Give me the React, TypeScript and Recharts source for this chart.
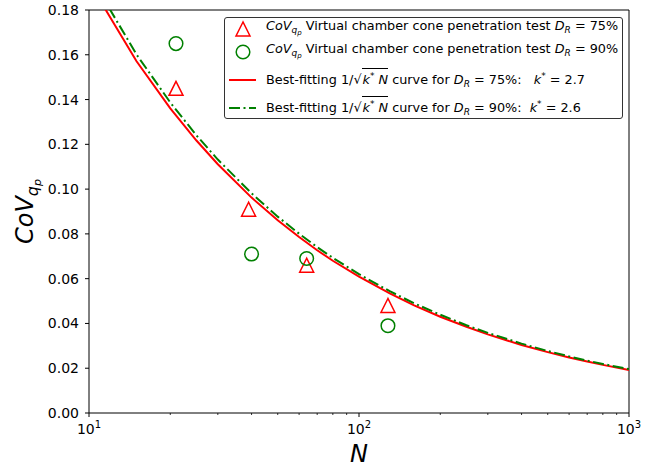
import React from "react";
import { ComposedChart, Line, Scatter, XAxis, YAxis, ReferenceArea, Legend } from "recharts";

const X_TICKS = [10, 20, 30, 40, 50, 60, 70, 80, 90, 100, 200, 300, 400, 500, 600, 700, 800, 900, 1000];
const Y_TICKS = [0, 0.02, 0.04, 0.06, 0.08, 0.1, 0.12, 0.14, 0.16, 0.18];

// virtual chamber CPT results
const N_75 = [21, 39, 64, 128];
const COV_75 = [0.145, 0.091, 0.066, 0.048];
const N_90 = [21, 40, 64, 128];
const COV_90 = [0.165, 0.071, 0.069, 0.039];

// best-fitting curves, read along N
const CURVE_N = [10, 15, 20, 25, 30, 40, 50, 60, 70, 80, 100, 130, 160, 200, 250, 300, 400, 500, 600, 700, 800, 1000];
const FIT_75 = [0.1925, 0.1571, 0.1361, 0.1217, 0.1111, 0.0962, 0.0861, 0.0786, 0.0727, 0.068, 0.0609, 0.0534, 0.0481, 0.043, 0.0385, 0.0351, 0.0304, 0.0272, 0.0248, 0.023, 0.0215, 0.0192];
const FIT_90 = [0.1961, 0.1601, 0.1387, 0.124, 0.1132, 0.0981, 0.0877, 0.0801, 0.0741, 0.0693, 0.062, 0.0544, 0.049, 0.0439, 0.0392, 0.0358, 0.031, 0.0277, 0.0253, 0.0234, 0.0219, 0.0196];

const RED = "#ff0000";
const GREEN = "#008000";
const FONT = "DejaVu Sans";

const zip = (ns: number[], vs: number[]) => ns.map((n, i) => ({ n, v: vs[i] }));
const pts75 = zip(N_75, COV_75);
const pts90 = zip(N_90, COV_90);
const fit75 = zip(CURVE_N, FIT_75);
const fit90 = zip(CURVE_N, FIT_90);

const Triangle = (p: any) => (
  <polygon
    points={`${p.cx},${p.cy - 7} ${p.cx - 7},${p.cy + 7} ${p.cx + 7},${p.cy + 7}`}
    fill="none"
    stroke={RED}
    strokeWidth={1.5}
  />
);

const Ring = (p: any) => <circle cx={p.cx} cy={p.cy} r={6.8} fill="none" stroke={GREEN} strokeWidth={1.5} />;

function LogTick({ x, y, payload }: any) {
  const exp = Math.log10(payload.value);
  const major = Math.abs(exp - Math.round(exp)) < 1e-9;
  return (
    <g>
      <line x1={x} x2={x} y1={y} y2={y + (major ? 4 : 2)} stroke="#000" strokeWidth={major ? 1 : 0.8} />
      {major && (
        <text x={x} y={y + 21} textAnchor="middle" fontSize={14} fill="#000">
          10
          <tspan dy={-6} fontSize={10}>
            {Math.round(exp)}
          </tspan>
        </text>
      )}
    </g>
  );
}

const sub = { fontSize: 9, verticalAlign: "-3px" };
const subsub = { fontSize: 7, verticalAlign: "-2px" };

function Dr({ pct }: { pct: string }) {
  return (
    <>
      <i>D</i>
      <i style={sub}>R</i>
      {` = ${pct}`}
    </>
  );
}

function SqrtKN() {
  return (
    <>
      1/√
      <span style={{ display: "inline-block", borderTop: "1px solid #000", lineHeight: "14px", paddingLeft: 1 }}>
        <i>k</i>
        <sup style={{ fontSize: 9 }}>*</sup> <i>N</i>
      </span>
    </>
  );
}

function LegendBox() {
  const rows: { c: number; handle: React.ReactNode; text: React.ReactNode }[] = [
    {
      c: 11,
      handle: <polygon points="18,3 11,17 25,17" fill="none" stroke={RED} strokeWidth={1.5} />,
      text: (
        <>
          <i>CoV</i>
          <i style={sub}>
            q<span style={subsub}>p</span>
          </i>{" "}
          Virtual chamber cone penetration test <Dr pct="75%" />
        </>
      ),
    },
    {
      c: 34,
      handle: <circle cx={18} cy={10} r={6.8} fill="none" stroke={GREEN} strokeWidth={1.5} />,
      text: (
        <>
          <i>CoV</i>
          <i style={sub}>
            q<span style={subsub}>p</span>
          </i>{" "}
          Virtual chamber cone penetration test <Dr pct="90%" />
        </>
      ),
    },
    {
      c: 62,
      handle: <line x1={4} x2={31} y1={10} y2={10} stroke={RED} strokeWidth={2} />,
      text: (
        <>
          Best-fitting <SqrtKN /> curve for <Dr pct="75%:" />
          {"   "}
          <i>k</i>
          <sup style={{ fontSize: 9 }}>*</sup> = 2.7
        </>
      ),
    },
    {
      c: 90,
      handle: <line x1={4} x2={31} y1={10} y2={10} stroke={GREEN} strokeWidth={2} strokeDasharray="11 3.5 2 3.5" />,
      text: (
        <>
          Best-fitting <SqrtKN /> curve for <Dr pct="90%:" />
          {"  "}
          <i>k</i>
          <sup style={{ fontSize: 9 }}>*</sup> = 2.6
        </>
      ),
    },
  ];
  return (
    <div
      style={{
        position: "relative",
        width: 399,
        height: 102,
        boxSizing: "border-box",
        border: "1px solid #333",
        borderRadius: 3,
        background: "rgba(255,255,255,0.8)",
        fontFamily: FONT,
        fontSize: 12.8,
        color: "#000",
      }}
    >
      {rows.map((r, i) => (
        <div
          key={i}
          style={{ position: "absolute", left: 0, right: 0, top: r.c - 10, height: 20, display: "flex", alignItems: "center" }}
        >
          <svg width={41} height={20} style={{ flex: "none" }}>
            {r.handle}
          </svg>
          <span style={{ whiteSpace: "pre", lineHeight: "20px" }}>{r.text}</span>
        </div>
      ))}
    </div>
  );
}

export default function App() {
  return (
    <div style={{ position: "absolute", left: 0, top: 0, width: 661, height: 470, background: "#fff" }}>
      <ComposedChart
        width={661}
        height={470}
        margin={{ top: 10, right: 32, left: 39, bottom: 0 }}
        style={{ fontFamily: FONT }}
      >
        <XAxis
          type="number"
          dataKey="n"
          scale="log"
          domain={[10, 1000]}
          ticks={X_TICKS}
          interval={0}
          allowDataOverflow
          axisLine={false}
          tickLine={false}
          tickSize={0}
          tickMargin={0}
          tick={<LogTick />}
          height={57}
          label={{
            content: ({ viewBox }: any) => (
              <text
                x={viewBox.x + viewBox.width / 2}
                y={viewBox.y + 49}
                textAnchor="middle"
                fontSize={24}
                fontStyle="italic"
                fill="#000"
              >
                N
              </text>
            ),
          }}
        />
        <YAxis
          type="number"
          dataKey="v"
          domain={[0, 0.18]}
          ticks={Y_TICKS}
          interval={0}
          allowDataOverflow
          width={50}
          axisLine={false}
          stroke="#000"
          tickSize={4}
          tickMargin={6}
          tick={{ fill: "#000", fontSize: 14 }}
          tickFormatter={(v: number) => v.toFixed(2)}
          label={{
            content: ({ viewBox }: any) => {
              const cx = viewBox.x - 6;
              const cy = viewBox.y + viewBox.height / 2;
              return (
                <text
                  x={cx}
                  y={cy}
                  transform={`rotate(-90 ${cx} ${cy})`}
                  textAnchor="middle"
                  fontSize={24}
                  fontStyle="italic"
                  fill="#000"
                >
                  CoV
                  <tspan fontSize={16} dy={5}>
                    q
                  </tspan>
                  <tspan fontSize={11} dy={3}>
                    p
                  </tspan>
                </text>
              );
            },
          }}
        />
        <Scatter data={pts75} shape={Triangle} isAnimationActive={false} />
        <Scatter data={pts90} shape={Ring} isAnimationActive={false} />
        <Line data={fit75} dataKey="v" type="linear" stroke={RED} strokeWidth={2} dot={false} activeDot={false} isAnimationActive={false} />
        <Line
          data={fit90}
          dataKey="v"
          type="linear"
          stroke={GREEN}
          strokeWidth={2}
          strokeDasharray="11 3.5 2 3.5"
          dot={false}
          activeDot={false}
          isAnimationActive={false}
        />
        <ReferenceArea x1={10} x2={1000} y1={0} y2={0.18} fill="none" stroke="#000" strokeWidth={1} />
        <Legend
          layout="vertical"
          align="center"
          verticalAlign="middle"
          wrapperStyle={{ left: 224, top: 17, width: 400 }}
          content={() => <LegendBox />}
        />
      </ComposedChart>
    </div>
  );
}
